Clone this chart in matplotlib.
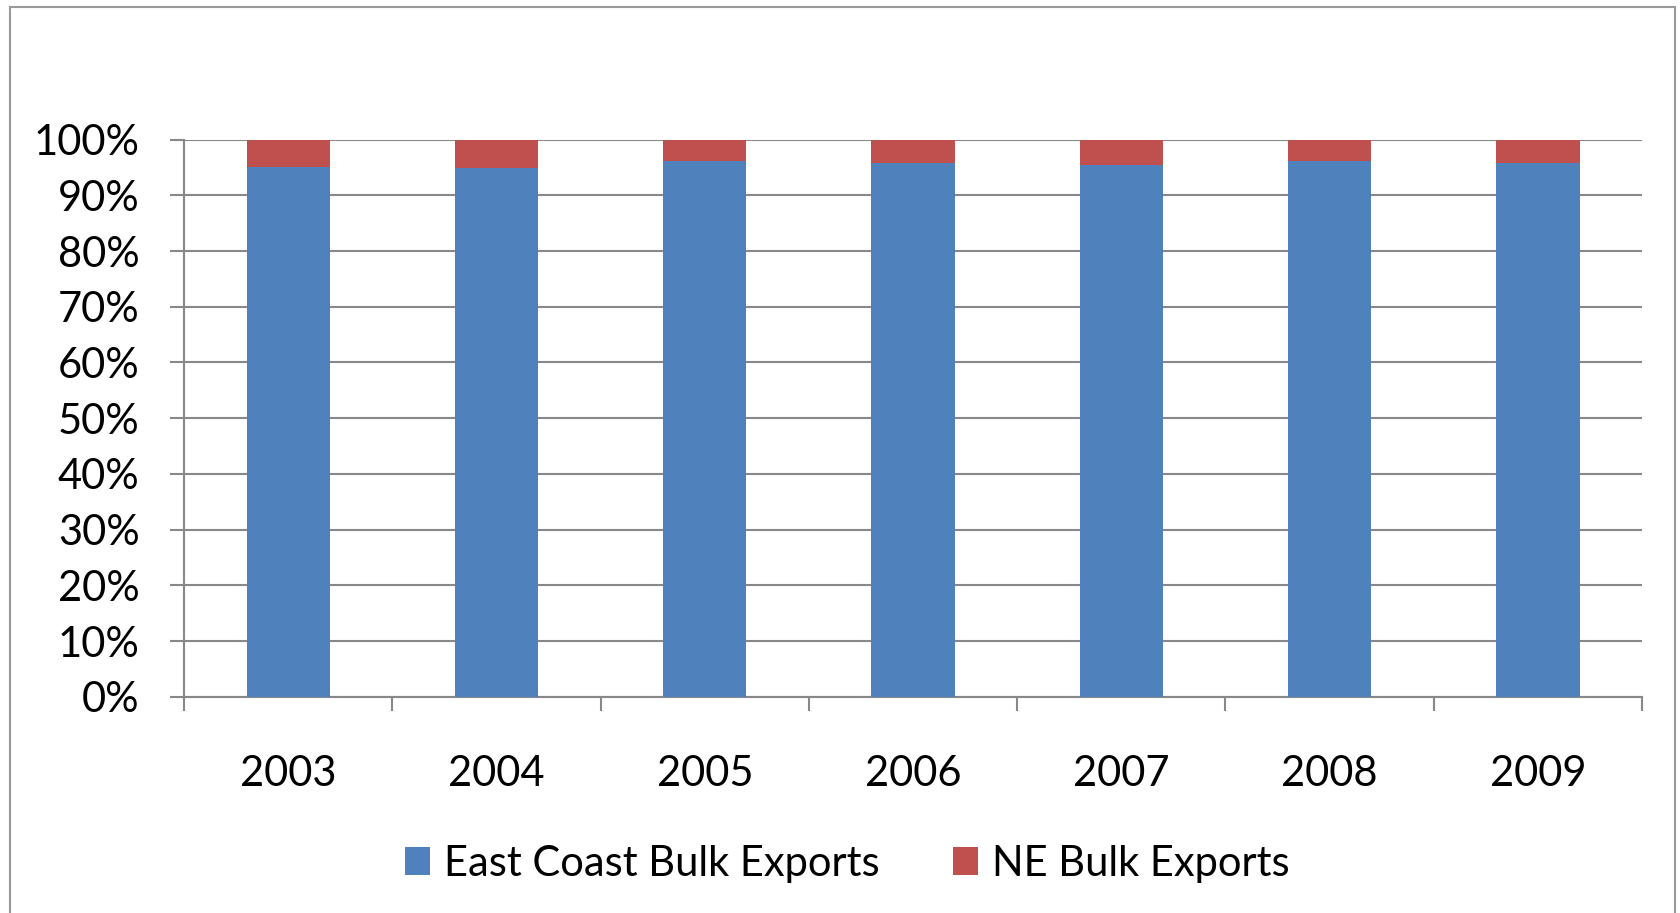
import matplotlib.pyplot as plt
from matplotlib.patches import Rectangle
from matplotlib.ticker import FixedLocator

plt.rcParams['font.family'] = ['Lato', 'DejaVu Sans']

years = ['2003', '2004', '2005', '2006', '2007', '2008', '2009']
east_coast = [95.1, 94.8, 96.2, 95.8, 95.5, 96.2, 95.8]
ne_bulk = [4.9, 5.2, 3.8, 4.2, 4.5, 3.8, 4.2]
y_ticks = [0, 10, 20, 30, 40, 50, 60, 70, 80, 90, 100]

blue = '#4F81BD'
red = '#C0504D'
grey = '#888888'

fig = plt.figure(figsize=(16.81, 9.13), dpi=100)
ax = fig.add_axes([0.1095, 0.2366, 0.8673, 0.6106])

x = range(len(years))
ax.bar(x, east_coast, width=0.4, color=blue, label='East Coast Bulk Exports', zorder=3)
ax.bar(x, ne_bulk, width=0.4, bottom=east_coast, color=red, label='NE Bulk Exports', zorder=3)

ax.set_xlim(-0.5, len(years) - 0.5)
ax.set_ylim(0, 100)
ax.set_yticks(y_ticks)
ax.set_yticklabels([f'{v}%' for v in y_ticks])
ax.yaxis.grid(True, color=grey, linewidth=1.5, zorder=0)

# category labels in the middle, ticks on the boundaries
ax.set_xticks(list(x))
ax.set_xticklabels(years)
ax.tick_params(axis='x', length=0, pad=42, labelsize=30)
ax.xaxis.set_minor_locator(FixedLocator([i - 0.5 for i in range(len(years) + 1)]))
ax.tick_params(axis='x', which='minor', length=10, width=1.5, color=grey)
ax.tick_params(axis='y', length=10, width=1.5, color=grey, pad=22, labelsize=30)

for side in ['top', 'right']:
    ax.spines[side].set_visible(False)
for side in ['left', 'bottom']:
    ax.spines[side].set_color(grey)
    ax.spines[side].set_linewidth(1.5)

fig.legend(loc='center', bbox_to_anchor=(0.504, 0.054), ncol=2, frameon=False,
           fontsize=30, handlelength=0.6, handleheight=0.65, columnspacing=1.75,
           handletextpad=0.35)

fig.patches.append(Rectangle((10 / 1681, -0.05), 1665 / 1681, 1 - 7 / 913 + 0.05,
                             transform=fig.transFigure, fill=False,
                             edgecolor='#999999', linewidth=1.5))

fig.savefig('out.png', dpi=100)
